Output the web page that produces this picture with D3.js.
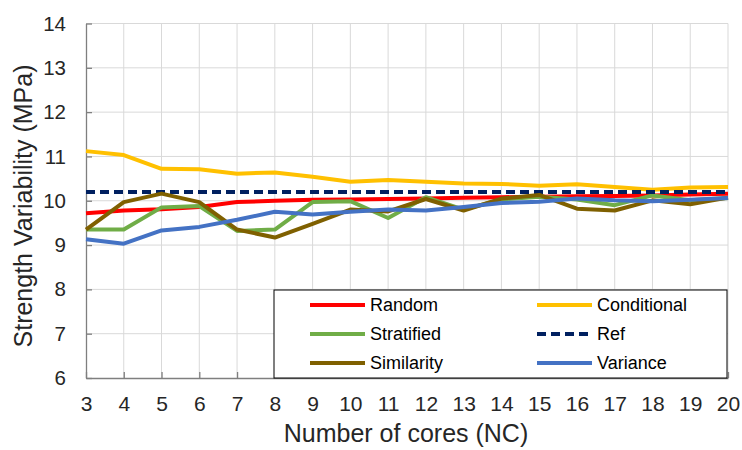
<!DOCTYPE html>
<html><head><meta charset="utf-8">
<script src="https://cdn.jsdelivr.net/npm/d3@7"></script>
<style>body{margin:0;background:#fff}svg{font-family:"Liberation Sans",Arial,sans-serif}</style>
</head><body><svg id="c" width="742" height="450"></svg>
<script>
const cores = [3,4,5,6,7,8,9,10,11,12,13,14,15,16,17,18,19,20];
const random      = [9.72,9.78,9.81,9.86,9.97,10.0,10.02,10.03,10.04,10.05,10.07,10.08,10.09,10.1,10.11,10.12,10.14,10.16];
const conditional = [11.12,11.03,10.72,10.71,10.61,10.64,10.54,10.43,10.47,10.43,10.39,10.38,10.34,10.37,10.31,10.25,10.3,10.31];
const stratified  = [9.35,9.35,9.85,9.88,9.32,9.35,9.97,9.99,9.61,10.08,9.8,10.03,10.09,10.03,9.9,10.12,10.01,10.06];
const ref         = [10.2,10.2,10.2,10.2,10.2,10.2,10.2,10.2,10.2,10.2,10.2,10.2,10.2,10.2,10.2,10.2,10.2,10.2];
const similarity  = [9.35,9.97,10.16,9.97,9.35,9.17,9.48,9.8,9.76,10.04,9.78,10.05,10.13,9.82,9.78,10.01,9.92,10.07];
const variance    = [9.13,9.03,9.33,9.41,9.57,9.75,9.69,9.75,9.8,9.78,9.86,9.95,9.98,10.05,10.01,9.99,10.02,10.06];
const yTicks = [6,7,8,9,10,11,12,13,14];
const seriesNames = ["Random","Conditional","Stratified","Ref","Similarity","Variance"];
const seriesColors = ["#ff0000","#ffc000","#70ad47","#002060","#7f6000","#4472c4"];
const seriesData = [random,conditional,stratified,ref,similarity,variance];

const svg = d3.select("#c");
const x = d3.scaleLinear().domain([3,20]).range([86,728]);
const y = d3.scaleLinear().domain([6,14]).range([378,23.5]);

// grid
svg.append("g").selectAll("line.h").data(yTicks.filter(d=>d>6)).join("line")
  .attr("x1",86).attr("x2",728).attr("y1",d=>y(d)).attr("y2",d=>y(d))
  .attr("stroke","#d9d9d9").attr("stroke-width",1);
svg.append("g").selectAll("line.v").data(cores.filter(d=>d>3)).join("line")
  .attr("y1",y(14)).attr("y2",y(6)).attr("x1",d=>x(d)).attr("x2",d=>x(d))
  .attr("stroke","#d9d9d9").attr("stroke-width",1);

// axes
const ya = svg.append("g").attr("transform","translate(86,0)")
  .call(d3.axisLeft(y).tickValues(yTicks).tickSizeInner(-6).tickSizeOuter(0).tickPadding(20));
ya.select(".domain").attr("stroke","#7f7f7f").attr("stroke-width",1.3);
ya.selectAll(".tick line").attr("stroke","#7f7f7f").attr("stroke-width",1.3);
ya.selectAll("text").attr("font-size",20.5).attr("fill","#262626").attr("font-family","Liberation Sans, Arial, sans-serif");

const xa = svg.append("g").attr("transform","translate(0,378)")
  .call(d3.axisBottom(x).tickValues(cores).tickSizeInner(-6).tickSizeOuter(0).tickPadding(18).tickFormat(d3.format("d")));
xa.select(".domain").attr("stroke","#7f7f7f").attr("stroke-width",1.3);
xa.selectAll(".tick line").attr("stroke","#7f7f7f").attr("stroke-width",1.3);
xa.selectAll("text").attr("font-size",21).attr("fill","#262626").attr("font-family","Liberation Sans, Arial, sans-serif");

// lines
const line = d3.line().x((d,i)=>x(cores[i])).y(d=>y(d));
seriesData.forEach((s,k)=>{
  const p = svg.append("path").datum(s).attr("d",line).attr("fill","none")
    .attr("stroke",seriesColors[k]).attr("stroke-width",4).attr("stroke-linejoin","round");
  if(seriesNames[k]==="Ref") p.attr("stroke-dasharray","9,5").attr("stroke-linecap","butt");
});

// legend
const lg = svg.append("g");
lg.append("rect").attr("x",274).attr("y",290).attr("width",453).attr("height",88)
  .attr("fill","#fff").attr("stroke","#000").attr("stroke-width",1);
seriesNames.forEach((n,k)=>{
  const col = k%2, row = Math.floor(k/2);
  const lx = col===0 ? 310 : 537, ly = 305 + row*29;
  const l = lg.append("line").attr("x1",lx).attr("x2",lx+55).attr("y1",ly).attr("y2",ly)
    .attr("stroke",seriesColors[k]).attr("stroke-width",4);
  if(n==="Ref") l.attr("stroke-dasharray","9,5");
  lg.append("text").attr("x",lx+60).attr("y",ly+6).attr("font-size",18).attr("fill","#000").text(n);
});

// titles
svg.append("text").attr("x",406).attr("y",442).attr("text-anchor","middle")
  .attr("font-size",25).attr("fill","#262626").text("Number of cores (NC)");
svg.append("text").attr("transform","translate(32,206) rotate(-90)").attr("text-anchor","middle")
  .attr("font-size",25).attr("fill","#262626").text("Strength Variability (MPa)");
</script></body></html>
